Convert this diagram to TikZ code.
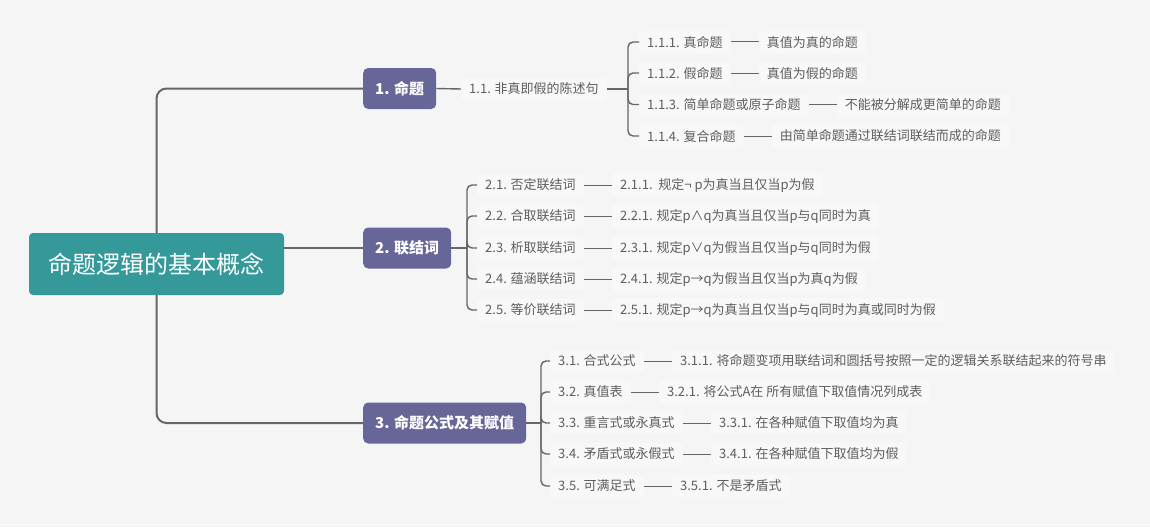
\documentclass[tikz,border=0pt]{standalone}
\usepackage{fontspec}
\setmainfont{Noto Sans CJK SC}
\usetikzlibrary{positioning}
\definecolor{bg}{HTML}{F5F5F5}
\definecolor{rootc}{HTML}{35999A}
\definecolor{mainc}{HTML}{666699}
\definecolor{linec}{HTML}{666666}
\definecolor{txtc}{HTML}{5E5E5E}
\definecolor{subfill}{HTML}{F8F8F8}
\begin{document}
\begin{tikzpicture}[x=1pt,y=-1pt,
 rootnode/.style={fill=rootc, rounded corners=4pt, text=white, font=\fontsize{24}{28}\selectfont, minimum width=255pt, minimum height=62pt, inner sep=0pt},
 mainnode/.style={fill=mainc, rounded corners=5pt, text=white, font=\fontsize{15}{18}\selectfont\bfseries, minimum height=41pt, inner xsep=12pt, anchor=west},
 subnode/.style={fill=subfill, rounded corners=3pt, text=txtc, font=\fontsize{13}{16}\selectfont, inner xsep=8pt, inner ysep=5pt, anchor=west},
 mainline/.style={draw=linec, line width=2pt, rounded corners=10pt},
 subline/.style={draw=linec, line width=1.4pt, rounded corners=5pt},
 dashline/.style={draw=linec, line width=1pt}
]
\useasboundingbox[fill=bg] (0,0) rectangle (1150,527);

% root and main topics
\node[rootnode] (root) at (156.5,264) {命题逻辑的基本概念};
\node[mainnode] (n1) at (363,88.5) {1. 命题};
\node[mainnode] (n2) at (363,248) {2. 联结词};
\node[mainnode] (n3) at (363,423) {3. 命题公式及其赋值};

\draw[mainline] (root.north) |- (n1.west);
\draw[mainline] (root.east |- n2.west) -- (n2.west);
\draw[mainline] (root.south) |- (n3.west);

% branch 1
\node[subnode] (n11) at (461,89) {1.1. 非真即假的陈述句};
\draw[subline] (n1.east) -- (n11.west);
\coordinate (b1) at (628,89);
\draw[subline] (n11.east) -- (b1);
\node[subnode] (c1) at (639,42) {1.1.1. 真命题};
\node[subnode] (c2) at (639,73) {1.1.2. 假命题};
\node[subnode] (c3) at (639,104.5) {1.1.3. 简单命题或原子命题};
\node[subnode] (c4) at (639,136) {1.1.4. 复合命题};
\foreach \c in {c1,c2,c3,c4} \draw[subline] (b1) |- (\c.west);
\node[subnode, right=28pt of c1] (d1) {真值为真的命题};
\node[subnode, right=28pt of c2] (d2) {真值为假的命题};
\node[subnode, right=28pt of c3] (d3) {不能被分解成更简单的命题};
\node[subnode, right=28pt of c4] (d4) {由简单命题通过联结词联结而成的命题};
\foreach \i in {1,2,3,4} \draw[dashline] (c\i.east) -- (d\i.west);

% branch 2
\coordinate (b2) at (467,248);
\draw[subline] (n2.east) -- (b2);
\node[subnode] (e1) at (477,185) {2.1. 否定联结词};
\node[subnode] (e2) at (477,216) {2.2. 合取联结词};
\node[subnode] (e3) at (477,248) {2.3. 析取联结词};
\node[subnode] (e4) at (477,279) {2.4. 蕴涵联结词};
\node[subnode] (e5) at (477,310) {2.5. 等价联结词};
\foreach \c in {e1,e2,e3,e4,e5} \draw[subline] (b2) |- (\c.west);
\node[subnode, right=28pt of e1] (f1) {2.1.1.\ \ 规定¬\ p为真当且仅当p为假};
\node[subnode, right=28pt of e2] (f2) {2.2.1. 规定p∧q为真当且仅当p与q同时为真};
\node[subnode, right=28pt of e3] (f3) {2.3.1. 规定p∨q为假当且仅当p与q同时为假};
\node[subnode, right=28pt of e4] (f4) {2.4.1. 规定p→q为假当且仅当p为真q为假};
\node[subnode, right=28pt of e5] (f5) {2.5.1. 规定p→q为真当且仅当p与q同时为真或同时为假};
\foreach \i in {1,2,3,4,5} \draw[dashline] (e\i.east) -- (f\i.west);

% branch 3
\coordinate (b3) at (541,423);
\draw[subline] (n3.east) -- (b3);
\node[subnode] (g1) at (550,361) {3.1. 合式公式};
\node[subnode] (g2) at (550,392) {3.2. 真值表};
\node[subnode] (g3) at (550,423) {3.3. 重言式或永真式};
\node[subnode] (g4) at (550,454) {3.4. 矛盾式或永假式};
\node[subnode] (g5) at (550,486) {3.5. 可满足式};
\foreach \c in {g1,g2,g3,g4,g5} \draw[subline] (b3) |- (\c.west);
\node[subnode, right=28pt of g1] (h1) {3.1.1. 将命题变项用联结词和圆括号按照一定的逻辑关系联结起来的符号串};
\node[subnode, right=28pt of g2] (h2) {3.2.1. 将公式A在 所有赋值下取值情况列成表};
\node[subnode, right=28pt of g3] (h3) {3.3.1. 在各种赋值下取值均为真};
\node[subnode, right=28pt of g4] (h4) {3.4.1. 在各种赋值下取值均为假};
\node[subnode, right=28pt of g5] (h5) {3.5.1. 不是矛盾式};
\foreach \i in {1,2,3,4,5} \draw[dashline] (g\i.east) -- (h\i.west);
\end{tikzpicture}
\end{document}
